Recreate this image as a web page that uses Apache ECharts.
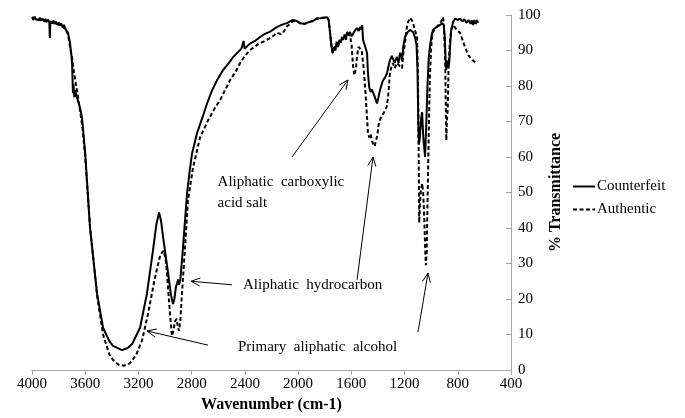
<!DOCTYPE html>
<html>
<head>
<meta charset="utf-8">
<script src="https://cdn.jsdelivr.net/npm/echarts@6/dist/echarts.min.js"></script>
<style>
html,body{margin:0;padding:0;background:#fff;}
#chart{width:685px;height:418px;}
</style>
</head>
<body>
<div id="chart"></div>
<script>
// ---- data (wavenumber cm-1, % transmittance) ----
var seriesNames = ['Counterfeit', 'Authentic'];
var xTicks = [4000, 3600, 3200, 2800, 2400, 2000, 1600, 1200, 800, 400];
var yTicks = [0, 10, 20, 30, 40, 50, 60, 70, 80, 90, 100];

var counterfeit = [
[4000,99.4],[3990,98.6],[3980,99.5],[3970,98.8],[3960,99.3],[3950,98.5],[3940,99.2],[3930,98.4],[3920,99.0],[3910,98.2],[3900,98.9],[3890,98.1],[3880,98.7],[3870,98.0],[3866,93.5],[3862,98.3],[3850,97.6],[3840,98.4],[3830,97.5],[3820,98.1],[3810,97.3],[3800,97.9],[3790,97.0],[3780,97.6],[3770,96.6],[3760,97.2],[3750,96.2],[3740,96.3],[3729,94.9],[3714,92.1],[3705,89],[3699,86.4],[3692,78.0],[3688,80.5],[3682,76.8],[3676,78.8],[3668,77.5],[3662,76.8],[3640,74],[3624,71],[3600,61],[3564,40],[3511,21.5],[3466,11.9],[3420,8.2],[3391,6.8],[3324,5.6],[3280,6.2],[3248,7.3],[3188,11.9],[3136,21.5],[3091,33.6],[3065,41],[3045,44.4],[3030,42],[3015,37.5],[2978,27.5],[2955,21],[2940,18.6],[2930,20],[2918,23.5],[2910,24.3],[2902,25.5],[2895,24],[2885,25.5],[2865,34.5],[2835,49.7],[2815,56],[2797,61],[2760,66.7],[2720,71],[2685,75],[2650,78.5],[2610,81.6],[2564,84.5],[2520,86.5],[2489,88.1],[2450,89.6],[2425,90.6],[2410,92.7],[2402,90.5],[2380,91.3],[2360,92],[2320,92.8],[2286,93.8],[2250,94.7],[2210,95.3],[2160,96.6],[2120,97.3],[2085,97.7],[2040,98.6],[2010,98.3],[1986,97.7],[1950,97.5],[1920,98.0],[1888,98.3],[1860,99.0],[1835,99.1],[1800,99.3],[1783,99.4],[1770,98.5],[1760,95],[1750,91.5],[1740,89.3],[1730,91],[1720,90],[1710,92.5],[1700,91],[1690,93],[1680,92.2],[1670,93.8],[1662,93],[1650,94.5],[1640,93.5],[1632,95.2],[1620,94.6],[1610,95.2],[1598,94.0],[1587,94.4],[1575,95.5],[1565,95.0],[1557,96.3],[1545,95.5],[1535,96.6],[1525,96.0],[1518,97.2],[1512,93],[1495,91],[1482,89.3],[1475,83.6],[1465,79.5],[1455,78.3],[1445,79],[1437,78.2],[1420,76.5],[1407,75.1],[1395,77],[1385,78.8],[1362,81.6],[1345,82.5],[1332,83.6],[1310,87.3],[1295,88.5],[1287,88.7],[1275,86.5],[1265,87.5],[1257,88.2],[1245,86.5],[1234,89.3],[1224,88.5],[1219,87],[1210,91],[1197,93.8],[1175,95.3],[1159,95.8],[1136,95.2],[1120,93.5],[1110,91.5],[1103,85],[1097,70],[1092,63.5],[1085,65.5],[1075,71],[1068,72.6],[1060,66],[1046,60],[1036,70],[1028,80],[1018,88],[1008,91.5],[995,94.5],[986,95.8],[960,96.6],[933,97.2],[915,97.7],[905,97],[898,94],[892,88],[887,84.5],[882,87],[877,85],[871,87.3],[865,86],[858,91],[850,95.5],[836,98],[820,99],[800,98.6],[783,99],[765,98.2],[750,98.8],[735,97.8],[720,98.6],[705,97.5],[695,98.5],[685,97.2],[675,98.6],[665,97.5],[655,98.6],[648,97.8]
];

var authentic = [
[4000,99.2],[3990,98.8],[3980,99.3],[3970,98.6],[3960,99.1],[3950,98.7],[3940,99.0],[3930,98.5],[3920,98.8],[3910,98.3],[3900,98.7],[3890,98.2],[3880,98.5],[3870,98.1],[3860,98.2],[3850,97.8],[3840,98.0],[3830,97.6],[3820,97.9],[3810,97.4],[3800,97.6],[3790,97.1],[3780,97.3],[3770,96.7],[3760,96.9],[3750,96.1],[3740,95.8],[3729,94.5],[3714,91],[3699,88],[3685,84],[3670,80.5],[3650,76],[3620,68],[3600,60],[3564,40.5],[3511,21],[3466,10],[3420,4.5],[3391,2.8],[3350,1.5],[3310,1.2],[3270,1.8],[3250,2.5],[3215,4.5],[3174,8.2],[3128,15.8],[3076,26],[3035,32.5],[3010,33.6],[2995,31],[2985,27],[2963,15.8],[2948,9.6],[2935,11.5],[2925,13.8],[2912,14.4],[2905,12.5],[2895,11],[2885,14],[2873,21.5],[2850,34.5],[2828,47.7],[2790,57],[2737,65.5],[2677,70.3],[2630,73.5],[2587,76],[2512,81.6],[2470,84],[2437,86.4],[2400,88.5],[2362,90.1],[2300,91.8],[2234,93],[2180,94.3],[2159,95],[2130,94.6],[2113,95],[2083,96.8],[2040,98.3],[2010,98.3],[1986,97.7],[1950,97.5],[1920,98.0],[1888,98.3],[1860,99.0],[1835,99.1],[1800,99.3],[1783,99.4],[1770,98.5],[1760,95],[1750,91.5],[1740,89.3],[1730,90.5],[1720,90],[1710,92],[1700,91],[1690,92.5],[1680,92],[1670,93.2],[1660,92.8],[1650,94],[1640,93],[1630,94.5],[1620,94],[1610,94.2],[1598,91.5],[1588,86],[1578,83],[1572,82.5],[1565,85],[1557,88.5],[1545,91],[1535,91.5],[1522,90],[1510,86],[1497,80],[1485,73],[1475,66.7],[1465,65.5],[1455,66.5],[1445,64.5],[1437,63.8],[1425,63],[1415,62.7],[1405,66],[1395,69],[1380,71],[1369,71.2],[1355,72.5],[1347,73.2],[1335,74],[1324,76.8],[1310,83.6],[1298,85.5],[1287,86.4],[1275,85],[1264,84.5],[1255,86.5],[1249,86],[1235,85.5],[1225,86],[1219,85],[1210,89],[1197,92],[1185,96],[1174,98],[1159,99.2],[1145,98.5],[1136,97.7],[1120,95.5],[1106,93.8],[1099,82.5],[1094,62],[1090,41.5],[1084,47],[1076,51],[1068,52.5],[1060,50],[1052,43],[1045,34],[1040,29.5],[1034,33],[1027,48],[1018,67],[1010,82],[1000,91],[990,95],[960,96.5],[933,97.7],[920,98.5],[911,99.4],[905,97.5],[899,92],[894,85.3],[889,72],[886,64.7],[881,71],[876,73.2],[870,83.6],[863,90],[858,93],[848,96],[836,97.2],[821,97.2],[800,95.5],[783,95],[760,92.5],[746,91],[720,88.6],[708,88.1],[690,87.3],[670,86.7]
];

// annotation texts (anchored at data coords: left edge, vertical middle)
var noteTexts = ['Aliphatic  carboxylic\nacid salt', 'Aliphatic  hydrocarbon', 'Primary  aliphatic  alcohol'];
var noteAnchors = [[2605, 50], [2414, 23.8], [2452, 6.4]];
// arrows: [tail, head] in data coords
var arrowTails = [[2046, 60], [1557, 25.4], [2497, 24], [2677, 7], [1099, 10.7]];
var arrowHeads = [[1625, 81.7], [1437, 60], [2805, 25], [3136, 11], [1024, 27.3]];

var FONT = 'Liberation Serif';
var AXIS_COLOR = '#a6a6a6';

var chart = echarts.init(document.getElementById('chart'), null, {renderer: 'canvas'});

var option = {
  animation: false,
  backgroundColor: '#ffffff',
  grid: {left: 32, right: 174, top: 15, bottom: 48},
  legend: {
    orient: 'vertical',
    left: 572, top: 179,
    itemWidth: 22, itemHeight: 14, itemGap: 8,
    padding: 0,
    itemStyle: {opacity: 0},
    textStyle: {fontFamily: FONT, fontSize: 15, color: '#000', padding: [0,0,0,-3]},
    data: seriesNames
  },
  xAxis: {
    type: 'value', inverse: true,
    min: xTicks[xTicks.length - 1], max: xTicks[0], interval: 400,
    name: 'Wavenumber (cm-1)', nameLocation: 'middle', nameGap: 27,
    nameTextStyle: {fontFamily: FONT, fontSize: 16, fontWeight: 'bold', color: '#000'},
    axisLine: {show: true, lineStyle: {color: AXIS_COLOR, width: 1}},
    axisTick: {show: true, inside: false, length: 5, lineStyle: {color: AXIS_COLOR}},
    axisLabel: {fontFamily: FONT, fontSize: 15, color: '#000', margin: 7, showMinLabel: true, showMaxLabel: true,
      formatter: function (v) { return String(v); }},
    splitLine: {show: false}
  },
  yAxis: {
    type: 'value', position: 'right',
    min: yTicks[0], max: yTicks[yTicks.length - 1], interval: 10,
    axisLine: {show: true, lineStyle: {color: AXIS_COLOR, width: 1}},
    axisTick: {show: true, inside: true, length: 5, lineStyle: {color: AXIS_COLOR}},
    axisLabel: {fontFamily: FONT, fontSize: 15, color: '#000', margin: 7,
      formatter: function (v) { return String(v); }},
    splitLine: {show: false}
  },
  series: [
    {
      name: seriesNames[0], type: 'line', data: counterfeit,
      symbol: 'none', showSymbol: false, z: 3,
      lineStyle: {color: '#000', width: 2, type: 'solid'},
      itemStyle: {color: '#000'}
    },
    {
      name: seriesNames[1], type: 'line', data: authentic,
      symbol: 'none', showSymbol: false, z: 2,
      lineStyle: {color: '#000', width: 2, type: [4, 2.5]},
      itemStyle: {color: '#000'}
    }
  ]
};
chart.setOption(option);

function px(p) { return chart.convertToPixel({gridIndex: 0}, p); }

var graphics = [];
noteTexts.forEach(function (t, i) {
  var p = px(noteAnchors[i]);
  graphics.push({
    type: 'text', x: p[0], y: p[1], silent: true,
    style: {text: t, fontFamily: FONT, fontSize: 15, fill: '#000', align: 'left', verticalAlign: 'middle', lineHeight: 21}
  });
});
arrowTails.forEach(function (tail, i) {
  var a = px(tail), b = px(arrowHeads[i]);
  var ang = Math.atan2(b[1] - a[1], b[0] - a[0]);
  var L = 10, s = 0.42;
  graphics.push({type: 'line', silent: true, shape: {x1: a[0], y1: a[1], x2: b[0], y2: b[1]}, style: {stroke: '#000', lineWidth: 1}});
  graphics.push({type: 'polyline', silent: true,
    shape: {points: [[b[0] - L * Math.cos(ang - s), b[1] - L * Math.sin(ang - s)], [b[0], b[1]], [b[0] - L * Math.cos(ang + s), b[1] - L * Math.sin(ang + s)]]},
    style: {stroke: '#000', lineWidth: 1, fill: null}});
});
// y axis title
var yTitlePos = px([400, 50]);
graphics.push({
  type: 'text', x: yTitlePos[0] + 45, y: yTitlePos[1], rotation: Math.PI / 2, silent: true,
  style: {text: '% Transmittance', fontFamily: FONT, fontSize: 16, fontWeight: 'bold', fill: '#000', align: 'center', verticalAlign: 'middle'}
});
chart.setOption({graphic: graphics});
</script>
</body>
</html>
